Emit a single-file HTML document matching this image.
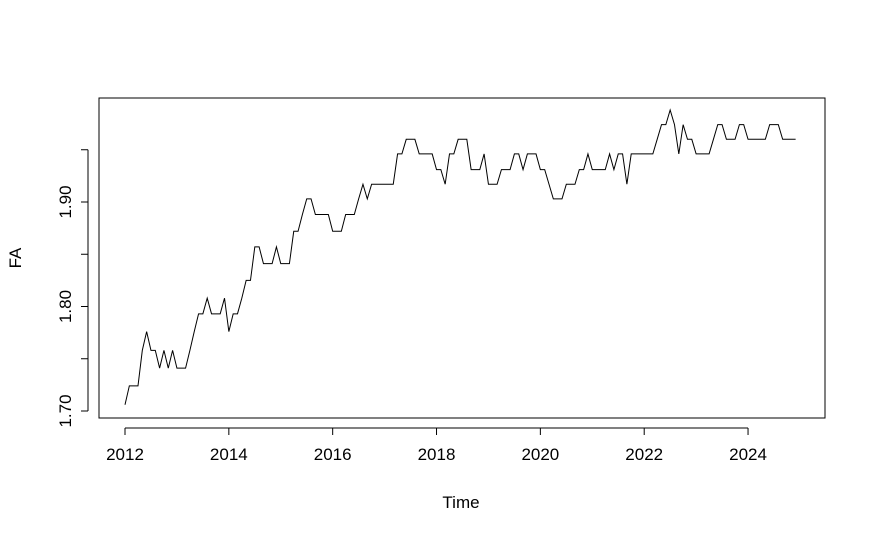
<!DOCTYPE html>
<html><head><meta charset="utf-8"><style>
html,body{margin:0;padding:0;background:#fff;}
svg text{font-family:"Liberation Sans",Arial,sans-serif;font-size:17px;fill:#000;}
</style></head><body>
<svg id="chart" width="875" height="540" xmlns="http://www.w3.org/2000/svg">
<rect x="99" y="98" width="726" height="320" fill="none" stroke="#000" stroke-width="1"/>
<g id="xaxis"></g>
<g id="yaxis"></g>
<text x="461" y="508" text-anchor="middle">Time</text>
<text x="21" y="258" text-anchor="middle" transform="rotate(-90 21 258)">FA</text>
<path id="series" fill="none" stroke="#000" stroke-width="1"/>
</svg>
<script>
const startYear = 2012;
const freq = 12;
const values = [
1.706,1.724,1.724,1.724,1.758,1.776,1.758,1.758,1.741,1.758,1.741,1.758,
1.741,1.741,1.741,1.758,1.776,1.793,1.793,1.808,1.793,1.793,1.793,1.808,
1.776,1.793,1.793,1.808,1.825,1.825,1.857,1.857,1.841,1.841,1.841,1.857,
1.841,1.841,1.841,1.872,1.872,1.888,1.903,1.903,1.888,1.888,1.888,1.888,
1.872,1.872,1.872,1.888,1.888,1.888,1.903,1.917,1.903,1.917,1.917,1.917,
1.917,1.917,1.917,1.946,1.946,1.960,1.960,1.960,1.946,1.946,1.946,1.946,
1.931,1.931,1.917,1.946,1.946,1.960,1.960,1.960,1.931,1.931,1.931,1.946,
1.917,1.917,1.917,1.931,1.931,1.931,1.946,1.946,1.931,1.946,1.946,1.946,
1.931,1.931,1.917,1.903,1.903,1.903,1.917,1.917,1.917,1.931,1.931,1.946,
1.931,1.931,1.931,1.931,1.946,1.931,1.946,1.946,1.917,1.946,1.946,1.946,
1.946,1.946,1.946,1.960,1.974,1.974,1.988,1.974,1.946,1.974,1.960,1.960,
1.946,1.946,1.946,1.946,1.960,1.974,1.974,1.960,1.960,1.960,1.974,1.974,
1.960,1.960,1.960,1.960,1.960,1.974,1.974,1.974,1.960,1.960,1.960,1.960
];
const xTicks = [2012,2014,2016,2018,2020,2022,2024];
const yTicks = [1.70,1.75,1.80,1.85,1.90,1.95];
const yLabels = ["1.70","","1.80","","1.90",""];

const NS="http://www.w3.org/2000/svg";
function xs(t){return 125 + (t-2012)*51.92;}
function ys(v){return 411 - (v-1.70)*1045;}
function mk(tag,attrs,parent,txt){const e=document.createElementNS(NS,tag);for(const k in attrs)e.setAttribute(k,attrs[k]);if(txt!==undefined)e.textContent=txt;parent.appendChild(e);return e;}

const xa=document.getElementById('xaxis');
const xl=mk('line',{x1:xs(xTicks[0]),x2:xs(xTicks[xTicks.length-1]),y1:428,y2:428,stroke:'#000'},xa);


xTicks.forEach(t=>{
  const tk=mk('line',{x1:xs(t),x2:xs(t),y1:428,y2:435,stroke:'#000'},xa);
  
  
  const lb=mk('text',{x:xs(t),y:460,'text-anchor':'middle'},xa,String(t));
  
  
});

const ya=document.getElementById('yaxis');
const yl=mk('line',{x1:88,x2:88,y1:ys(yTicks[0]),y2:ys(yTicks[yTicks.length-1]),stroke:'#000'},ya);


yTicks.forEach((v,i)=>{
  const y=ys(v);
  const tk=mk('line',{x1:81,x2:88,y1:y,y2:y,stroke:'#000'},ya);
  
  
  if(yLabels[i]){
    const lb=mk('text',{x:71,y:y,'text-anchor':'middle',transform:`rotate(-90 71 ${y})`},ya,yLabels[i]);
    
    
  }
});

let d='';
values.forEach((v,i)=>{const t=startYear+i/freq;d+=(i?'L':'M')+xs(t).toFixed(2)+','+ys(v).toFixed(2);});
document.getElementById('series').setAttribute('d',d);
</script>
</body></html>
